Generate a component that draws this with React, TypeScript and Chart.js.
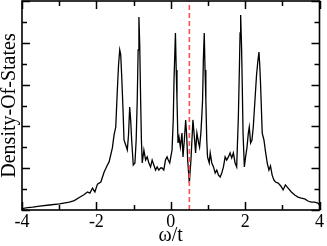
import React, { useEffect, useRef } from "react";
import { Chart, registerables } from "chart.js";

Chart.register(...registerables);

// ω/t values
const omega = [
  -4.0, -3.85, -3.709, -3.529, -3.262, -2.995, -2.727, -2.594, -2.46, -2.326,
  -2.238, -2.174, -2.104, -2.04, -1.971, -1.88, -1.791, -1.703, -1.658, -1.57,
  -1.524, -1.479, -1.436, -1.404, -1.372, -1.345, -1.318, -1.283, -1.257, -1.211,
  -1.168, -1.136, -1.104, -1.078, -1.051, -1.008, -0.963, -0.93, -0.901, -0.877,
  -0.856, -0.834, -0.81, -0.789, -0.767, -0.722, -0.676, -0.634, -0.588, -0.543,
  -0.5, -0.455, -0.409, -0.366, -0.321, -0.275, -0.233, -0.187, -0.142, -0.099,
  -0.067, -0.027, 0.035, 0.067, 0.088, 0.126, 0.147, 0.168, 0.195, 0.222,
  0.259, 0.302, 0.329, 0.366, 0.401, 0.428, 0.455, 0.5, 0.543, 0.57,
  0.596, 0.642, 0.668, 0.703, 0.749, 0.775, 0.81, 0.837, 0.856, 0.877,
  0.901, 0.922, 0.944, 0.968, 0.989, 1.035, 1.061, 1.104, 1.15, 1.195,
  1.238, 1.283, 1.329, 1.372, 1.417, 1.463, 1.505, 1.551, 1.596, 1.639,
  1.684, 1.73, 1.773, 1.818, 1.845, 1.864, 1.88, 1.906, 1.925, 1.944,
  1.979, 2.013, 2.051, 2.086, 2.112, 2.147, 2.184, 2.219, 2.265, 2.307,
  2.34, 2.372, 2.393, 2.414, 2.46, 2.506, 2.549, 2.594, 2.64, 2.682,
  2.727, 2.773, 2.816, 2.888, 2.96, 3.021, 3.083, 3.155, 3.243, 3.334,
  3.422, 3.511, 3.602, 3.69, 3.778, 3.869, 3.957, 4.0,
];

// Density of states values
const dos = [
  0.07, 0.11, 0.14, 0.19, 0.24, 0.29, 0.38, 0.45, 0.6, 0.74,
  0.86, 0.81, 1.05, 0.86, 1.24, 1.34, 1.82, 2.15, 2.3, 2.97,
  3.59, 3.97, 5.74, 6.94, 7.66, 7.42, 6.36, 4.78, 3.35, 3.11,
  2.87, 3.59, 4.93, 4.31, 3.35, 2.15, 2.25, 3.35, 5.26, 7.66,
  9.23, 7.89, 5.26, 3.35, 2.25, 2.87, 2.39, 2.54, 2.25, 2.06,
  2.39, 2.15, 1.91, 2.06, 1.91, 2.01, 2.01, 1.91, 2.39, 2.54,
  2.39, 2.25, 2.87, 4.31, 6.22, 8.47, 6.7, 5.26, 3.21, 3.49,
  3.01, 3.68, 2.54, 3.35, 4.31, 3.59, 2.39, 1.29, 2.39, 3.35,
  4.31, 3.35, 2.73, 3.68, 3.21, 3.01, 3.68, 4.55, 5.26, 7.18,
  8.47, 6.7, 5.26, 3.35, 2.54, 2.25, 2.73, 2.25, 2.06, 1.77,
  1.91, 1.67, 1.58, 1.77, 2.06, 2.54, 2.39, 2.54, 2.73, 2.49,
  2.73, 2.25, 2.06, 4.45, 6.7, 8.47, 9.33, 7.66, 5.74, 3.68,
  2.06, 2.54, 3.01, 3.68, 3.97, 3.21, 3.35, 3.97, 5.26, 6.46,
  7.08, 7.56, 6.94, 6.08, 3.68, 3.35, 2.78, 2.25, 1.91, 2.11,
  1.67, 1.44, 1.34, 1.29, 1.15, 0.96, 1.2, 1.05, 0.86, 0.72,
  0.62, 0.57, 0.53, 0.43, 0.38, 0.38, 0.33, 0.24,
];

const markerOmega = 0.5;
const xMin = -4;
const xMax = 4;
const yMin = 0;
const yMax = 10;
const xLabelValues = [-4, -2, 0, 2, 4];

const FONT = "'Liberation Serif', 'DejaVu Serif', serif";

const frameTicks = {
  id: "frameTicks",
  afterDatasetsDraw(chart: any) {
    const { ctx, chartArea: a, scales } = chart;
    const x = scales.x;
    const y = scales.y;
    ctx.save();
    ctx.strokeStyle = "#000";
    ctx.lineWidth = 1.5;
    ctx.beginPath();
    for (const t of x.ticks) {
      const px = Math.round(x.getPixelForValue(t.value)) + 0.5;
      const len = Math.round(t.value) % 2 === 0 ? 8 : 5;
      ctx.moveTo(px, a.bottom);
      ctx.lineTo(px, a.bottom - len);
      ctx.moveTo(px, a.top);
      ctx.lineTo(px, a.top + len);
    }
    for (const t of y.ticks) {
      const py = Math.round(y.getPixelForValue(t.value)) + 0.5;
      const len = Math.round(t.value) % 2 === 0 ? 8 : 5;
      ctx.moveTo(a.left, py);
      ctx.lineTo(a.left + len, py);
      ctx.moveTo(a.right, py);
      ctx.lineTo(a.right - len, py);
    }
    ctx.stroke();
    ctx.lineWidth = 1.6;
    ctx.strokeRect(a.left, a.top, a.right - a.left, a.bottom - a.top);
    ctx.restore();
  },
};

export default function App() {
  const ref = useRef<HTMLCanvasElement | null>(null);

  useEffect(() => {
    if (!ref.current) return;
    const chart = new Chart(ref.current, {
      type: "line",
      data: {
        datasets: [
          {
            data: [
              { x: markerOmega, y: yMin },
              { x: markerOmega, y: yMax },
            ],
            borderColor: "#ff4f4f",
            borderWidth: 1.6,
            borderDash: [5, 3],
            pointRadius: 0,
            fill: false,
          },
          {
            data: omega.map((w, i) => ({ x: w, y: dos[i] })),
            borderColor: "#000",
            borderWidth: 1.3,
            pointRadius: 0,
            tension: 0,
            fill: false,
          },
        ],
      },
      options: {
        responsive: false,
        animation: false,
        layout: { padding: { left: 0, right: 5, top: 1, bottom: 0 } },
        plugins: { legend: { display: false }, tooltip: { enabled: false } },
        scales: {
          x: {
            type: "linear",
            min: xMin,
            max: xMax,
            afterFit: (s: any) => {
              s.height = 36;
            },
            grid: { display: false, drawTicks: false },
            border: { display: false },
            ticks: {
              stepSize: 1,
              autoSkip: false,
              maxRotation: 0,
              padding: 3,
              color: "#000",
              font: { family: FONT, size: 18, lineHeight: 1 },
              callback: (v: any) =>
                xLabelValues.includes(Number(v)) ? String(v) : "",
            },
            title: {
              display: true,
              text: "ω/t",
              color: "#000",
              font: { family: FONT, size: 20, lineHeight: 1 },
              padding: { top: 0, bottom: 0 },
            },
          },
          y: {
            type: "linear",
            min: yMin,
            max: yMax,
            afterFit: (s: any) => {
              s.width = 22;
            },
            grid: { display: false, drawTicks: false },
            border: { display: false },
            ticks: { stepSize: 1, display: false },
            title: {
              display: true,
              text: "Density-Of-States",
              color: "#000",
              font: { family: FONT, size: 20, lineHeight: 1 },
              padding: { top: 0, bottom: 0 },
            },
          },
        },
      },
      plugins: [frameTicks],
    });
    return () => chart.destroy();
  }, []);

  return (
    <div style={{ position: "fixed", left: 0, top: 0, width: 327, height: 246, background: "#fff" }}>
      <canvas ref={ref} width={327} height={246} />
    </div>
  );
}
